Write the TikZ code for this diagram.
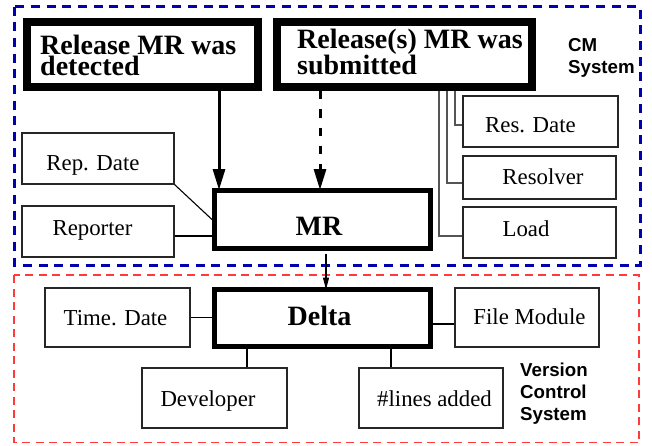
\documentclass[tikz,border=0pt]{standalone}
\usepackage{fontspec}
\setmainfont{Liberation Serif}
\setsansfont{Liberation Sans}
\usetikzlibrary{arrows.meta}
\definecolor{cmblue}{HTML}{0000B0}
\definecolor{vcred}{HTML}{FF3A3A}
\definecolor{linkgray}{HTML}{555555}
\tikzset{
  heavybox/.style={draw=black, line width=8pt, inner sep=0pt, fill=white},
  midbox/.style={draw=black, line width=5pt, inner sep=0pt, fill=white},
  thinbox/.style={draw=black!85, line width=1.1pt, inner sep=0pt, fill=white},
  boldtxt/.style={font=\fontsize{28}{21.5}\bfseries\selectfont, inner sep=0pt, align=left},
  regtxt/.style={font=\fontsize{22.8}{26}\selectfont, inner sep=0pt},
  systxt/.style={font=\sffamily\bfseries\fontsize{18.7}{22}\selectfont, inner sep=0pt, align=left},
  cmframe/.style={draw=cmblue, line width=3pt, dash pattern=on 9pt off 6.7pt},
  vcframe/.style={draw=vcred, line width=1.8pt, dash pattern=on 8pt off 5.5pt},
  link/.style={draw=black, line width=1.1pt},
  graylink/.style={draw=linkgray, line width=1.1pt},
  bigtip/.style={-{Triangle[width=12pt 0 0,length=21pt 0 0]}},
  smalltip/.style={-{Triangle[width=6pt 0 0,length=12pt 0 0]}}
}
\begin{document}
\begin{tikzpicture}[x=1pt,y=-1pt]
\useasboundingbox (0,0) rectangle (652,445);
% frames
\path[cmframe] (14.5,6.5) rectangle (640,265);
\path[vcframe] (14,275) rectangle (639,442.5);
% thick boxes
\node[heavybox, minimum width=231pt, minimum height=65pt] (detected) at (142.5,54.5) {};
\node[heavybox, minimum width=255pt, minimum height=65pt] (submitted) at (404.5,54.5) {};
\node[midbox, minimum width=216pt, minimum height=58pt] (mr) at (322.5,219.5) {};
\node[midbox, minimum width=216pt, minimum height=57pt] (delta) at (322.5,318) {};
\node[boldtxt, anchor=base west] (detectedtext) at (40,75.5) {Release MR was\\detected};
\node[boldtxt, anchor=base west] (submittedtext) at (297,74.5) {Release(s) MR was\\submitted};
\node[boldtxt, anchor=base] (mrtext) at (319,235) {MR};
\node[boldtxt, anchor=base] (deltatext) at (319.5,325) {Delta};
% thin boxes
\node[thinbox, minimum width=152pt, minimum height=51pt] (repdate) at (98,158.5) {};
\node[thinbox, minimum width=152pt, minimum height=51pt] (reporter) at (98,231.5) {};
\node[thinbox, minimum width=155pt, minimum height=51pt] (resdate) at (540.5,121.5) {};
\node[thinbox, minimum width=153pt, minimum height=43pt] (resolver) at (539.5,177.5) {};
\node[thinbox, minimum width=153pt, minimum height=51pt] (load) at (539.5,232.5) {};
\node[thinbox, minimum width=145pt, minimum height=59pt] (timedate) at (117.5,317.5) {};
\node[thinbox, minimum width=144pt, minimum height=59pt] (filemod) at (527,317.5) {};
\node[thinbox, minimum width=145pt, minimum height=60pt] (developer) at (214.5,398) {};
\node[thinbox, minimum width=144pt, minimum height=60pt] (lines) at (431,398) {};
\node[regtxt, anchor=base] (repdatetext) at (93,170) {Rep. Date};
\node[regtxt, anchor=base] (reportertext) at (92.5,235) {Reporter};
\node[regtxt, anchor=base] (resdatetext) at (530.5,132) {Res. Date};
\node[regtxt, anchor=base] (resolvertext) at (543,184) {Resolver};
\node[regtxt, anchor=base] (loadtext) at (526,236) {Load};
\node[regtxt, anchor=base] (timedatetext) at (115.5,325) {Time. Date};
\node[regtxt, anchor=base] (filemodtext) at (529.5,324) {File Module};
\node[regtxt, anchor=base] (developertext) at (208,406) {Developer};
\node[regtxt, anchor=base] (linestext) at (434.5,406) {\#lines added};
% system labels (base = last line)
\node[systxt, anchor=base west] (cmlabel) at (568,73) {CM\\System};
\node[systxt, anchor=base west] (vclabel) at (520,420) {Version\\Control\\System};
% helper coordinates
\coordinate (ax1) at (219,0);
\coordinate (ax2) at (320,0);
\coordinate (ax3) at (326,0);
\coordinate (g1) at (439,0);
\coordinate (g2) at (447,0);
\coordinate (g3) at (455,0);
% arrows
\draw[link, line width=3pt, bigtip, shorten >=-2pt] (detected.south -| ax1) -- (mr.north -| ax1);
\draw[link, line width=3pt, bigtip, shorten >=-2pt, dash pattern=on 8.3pt off 10pt] (submitted.south -| ax2) -- (mr.north -| ax2);
\draw[link, smalltip, shorten <=2.5pt, shorten >=-2.5pt] (mr.south -| ax3) -- (delta.north -| ax3);
% connectors
\draw[link] (repdate.south east) -- (mr.west);
\draw[link] ([yshift=-4.5pt]reporter.east) -- ([yshift=-4.5pt]reporter.east -| mr.west);
\draw[link] (timedate.east) -- (timedate.east -| delta.west);
\draw[link] ([yshift=-6.5pt]filemod.west) -- ([yshift=-6.5pt]filemod.west -| delta.east);
\draw[link] ([xshift=32.5pt]developer.north) -- ([xshift=32.5pt]developer.north |- delta.south);
\draw[link] ([xshift=-40pt]lines.north) -- ([xshift=-40pt]lines.north |- delta.south);
\draw[graylink] (submitted.south -| g3) |- ([yshift=-3.5pt]resdate.west);
\draw[graylink] (submitted.south -| g2) |- ([yshift=-5.5pt]resolver.west);
\draw[graylink] (submitted.south -| g1) |- ([yshift=-3.5pt]load.west);
\end{tikzpicture}
\end{document}
